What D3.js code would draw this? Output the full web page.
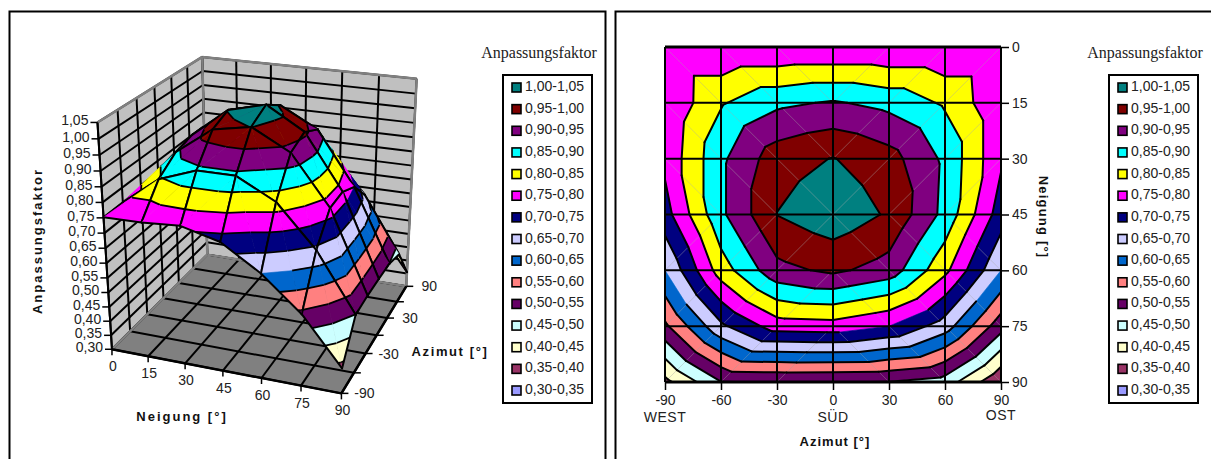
<!DOCTYPE html>
<html lang="de">
<head>
<meta charset="UTF-8">
<title>Anpassungsfaktor</title>
<script src="https://d3js.org/d3.v7.min.js"></script>
<style>
    body { margin: 0; background: #fff; }
    svg { display: block; }
    text { font-family: "Liberation Sans", Arial, sans-serif; fill: #222; }
    .achse { font-size: 14px; }
    .titel { font-size: 13px; font-weight: bold; fill: #111; }
    .legtitel { font-family: "Liberation Serif", serif; font-size: 16px; }
    .legtext { font-size: 14px; }
</style>
</head>
<body>
<div id="chart"></div>
<script>
    // Neigung (rows) and Azimut (columns)
    const neigung = [0, 15, 30, 45, 60, 75, 90];
    const azimut = [-90, -60, -30, 0, 30, 60, 90];

    // Anpassungsfaktor, one row per Neigung
    const faktor00 = [0.752, 0.752, 0.752, 0.752, 0.752, 0.752, 0.752];
    const faktor15 = [0.754, 0.845, 0.889, 0.905, 0.885, 0.843, 0.758];
    const faktor30 = [0.762, 0.890, 0.978, 1.002, 0.970, 0.890, 0.758];
    const faktor45 = [0.730, 0.890, 1.001, 1.033, 0.994, 0.885, 0.725];
    const faktor60 = [0.650, 0.825, 0.935, 0.960, 0.928, 0.813, 0.650];
    const faktor75 = [0.540, 0.690, 0.775, 0.780, 0.750, 0.675, 0.520];
    const faktor90 = [0.385, 0.499, 0.503, 0.502, 0.499, 0.478, 0.355];
    const faktor = [faktor00, faktor15, faktor30, faktor45, faktor60, faktor75, faktor90];

    const bandLabels = ["1,00-1,05", "0,95-1,00", "0,90-0,95", "0,85-0,90", "0,80-0,85", "0,75-0,80", "0,70-0,75",
        "0,65-0,70", "0,60-0,65", "0,55-0,60", "0,50-0,55", "0,45-0,50", "0,40-0,45", "0,35-0,40", "0,30-0,35"];
    const bandLows = [1.00, 0.95, 0.90, 0.85, 0.80, 0.75, 0.70, 0.65, 0.60, 0.55, 0.50, 0.45, 0.40, 0.35, 0.30];
    const bandColors = ["#008080", "#800000", "#800080", "#00FFFF", "#FFFF00", "#FF00FF", "#000080",
        "#CCCCFF", "#0066CC", "#FF8080", "#660066", "#CCFFFF", "#FFFFCC", "#993366", "#9999FF"];

    const zTicks = [0.30, 0.35, 0.40, 0.45, 0.50, 0.55, 0.60, 0.65, 0.70, 0.75, 0.80, 0.85, 0.90, 0.95, 1.00, 1.05];
    const azTicks3d = [-90, -30, 30, 90];
    const azUnter = [[-90, "WEST", 422], [0, "SÜD", 422], [90, "OST", 420]];

    const komma = d3.format(".2f");

    const svg = d3.select("#chart").append("svg").attr("width", 1211).attr("height", 459);

    // panel borders
    svg.append("path").attr("fill", "none").attr("stroke", "#000").attr("stroke-width", 2)
        .attr("d", "M9.5,459V11.5H605.5V459M615.5,459V11.5H1211");

    // split the grid into triangles, the diagonal of each cell points at the middle of the plot
    const triangles = [];
    const diagonals = [];
    for (let r = 0; r < neigung.length - 1; r++) {
        for (let c = 0; c < azimut.length - 1; c++) {
            const p = (i, j) => ({ az: azimut[j], ne: neigung[i], z: faktor[i][j] });
            const a = p(r, c), b = p(r, c + 1), d = p(r + 1, c), e = p(r + 1, c + 1);
            const fallend = (c < 3) === (r < 3);
            if (fallend) {
                triangles.push([a, b, e], [a, d, e]);
                diagonals.push([a, e]);
            } else {
                triangles.push([a, b, d], [b, d, e]);
                diagonals.push([b, d]);
            }
        }
    }

    // part of a triangle with lo <= z <= hi
    function clip(poly, level, keepAbove) {
        const out = [];
        poly.forEach(function (p, i) {
            const q = poly[(i + 1) % poly.length];
            const pIn = keepAbove ? p.z >= level : p.z <= level;
            const qIn = keepAbove ? q.z >= level : q.z <= level;
            if (pIn) out.push(p);
            if (pIn !== qIn) {
                const t = (level - p.z) / (q.z - p.z);
                out.push({ az: p.az + t * (q.az - p.az), ne: p.ne + t * (q.ne - p.ne), z: level });
            }
        });
        return out;
    }

    function contourSegments(tri) {
        const segs = [];
        bandLows.forEach(function (level) {
            const pts = [];
            tri.forEach(function (p, i) {
                const q = tri[(i + 1) % 3];
                if ((p.z - level) * (q.z - level) < 0) {
                    const t = (level - p.z) / (q.z - p.z);
                    pts.push({ az: p.az + t * (q.az - p.az), ne: p.ne + t * (q.ne - p.ne), z: level });
                }
            });
            if (pts.length === 2) segs.push(pts);
        });
        return segs;
    }

    function bandPolys(tri) {
        const polys = [];
        bandLows.forEach(function (lo, i) {
            const part = clip(clip(tri, lo, true), lo + 0.05, false);
            if (part.length > 2) polys.push({ poly: part, color: bandColors[i] });
        });
        return polys;
    }

    function drawLegend(x0) {
        const y = d3.scalePoint().domain(bandLabels).range([86, 389]);
        const g = svg.append("g");
        g.append("text").attr("class", "legtitel").attr("x", x0 + 58).attr("y", 58)
            .attr("text-anchor", "middle").text("Anpassungsfaktor");
        g.append("rect").attr("x", x0 + 22).attr("y", 75).attr("width", 89).attr("height", 328)
            .attr("fill", "#fff").attr("stroke", "#000").attr("stroke-width", 2);
        bandLabels.forEach(function (d, i) {
            g.append("rect").attr("x", x0 + 31).attr("y", y(d) - 3).attr("width", 9).attr("height", 9)
                .attr("fill", bandColors[i]).attr("stroke", "#000").attr("stroke-width", 1.6);
            g.append("text").attr("class", "legtext").attr("x", x0 + 44).attr("y", y(d) + 5).text(d);
        });
    }

    // ---- right chart: contour view ----
    const x2 = d3.scaleLinear().domain([-90, 90]).range([665, 1001]);
    const y2 = d3.scaleLinear().domain([0, 90]).range([47, 382]);
    const path2 = d3.line().x(function (p) { return x2(p.az); }).y(function (p) { return y2(p.ne); });

    const flat = svg.append("g");
    triangles.forEach(function (tri) {
        bandPolys(tri).forEach(function (b) {
            flat.append("path").attr("d", path2(b.poly) + "Z")
                .attr("fill", b.color).attr("stroke", b.color).attr("stroke-width", 0.6);
        });
    });
    diagonals.forEach(function (seg) {
        flat.append("path").attr("d", path2(seg)).attr("stroke", "#999").attr("stroke-opacity", 0.45)
            .attr("stroke-width", 0.8).attr("fill", "none");
    });
    triangles.forEach(function (tri) {
        contourSegments(tri).forEach(function (seg) {
            flat.append("path").attr("d", path2(seg)).attr("stroke", "#000").attr("stroke-width", 2)
                .attr("fill", "none").attr("stroke-linecap", "round");
        });
    });
    flat.selectAll(".vgrid").data(azimut).enter().append("line").attr("class", "vgrid")
        .attr("x1", x2).attr("x2", x2).attr("y1", y2(0)).attr("y2", y2(90))
        .attr("stroke", "#000").attr("stroke-width", 2);
    flat.selectAll(".hgrid").data(neigung).enter().append("line").attr("class", "hgrid")
        .attr("x1", x2(-90)).attr("x2", x2(90)).attr("y1", y2).attr("y2", y2)
        .attr("stroke", "#000").attr("stroke-width", function (d) { return d === 0 || d === 90 ? 3 : 2; });

    const axisY2 = svg.append("g").attr("transform", "translate(" + x2(90) + ",0)")
        .call(d3.axisRight(y2).tickValues(neigung).tickSize(8).tickPadding(3).tickFormat(function (d) { return d; }));
    const axisX2 = svg.append("g").attr("transform", "translate(0," + y2(90) + ")")
        .call(d3.axisBottom(x2).tickValues(azimut).tickSize(8).tickPadding(5).tickFormat(function (d) { return d; }));
    [axisY2, axisX2].forEach(function (a) {
        a.select(".domain").remove();
        a.selectAll("line").attr("stroke", "#000").attr("stroke-width", 1.5);
        a.selectAll("text").attr("class", "achse").attr("font-family", null).attr("font-size", null);
    });
    azUnter.forEach(function (d) {
        svg.append("text").attr("class", "achse").attr("x", x2(d[0])).attr("y", d[2])
            .attr("text-anchor", "middle").style("letter-spacing", "0.5px").text(d[1]);
    });
    svg.append("text").attr("class", "titel").attr("x", 835).attr("y", 446)
        .attr("text-anchor", "middle").style("letter-spacing", "1px").text("Azimut [°]");
    svg.append("text").attr("class", "titel").attr("text-anchor", "middle").style("letter-spacing", "1.2px")
        .attr("transform", "translate(1039,217) rotate(90)").text("Neigung [°]");
    drawLegend(1087);

    // ---- left chart: 3D view ----
    const uScale = d3.scaleLinear().domain([-90, 90]).range([0, 1]);
    const vScale = d3.scaleLinear().domain([0, 90]).range([0, 1]);
    const wScale = d3.scaleLinear().domain([0.30, 1.05]).range([0, 1]);

    // where known points of the box and surface sit on screen: u, v, w, x, y
    const anchors = [
        [0, 0, 0, 112, 350], [0, 1, 0, 342, 393], [1, 1, 0, 406, 287], [1, 0, 0, 207, 254],
        [0, 0, 1, 97, 123], [1, 0, 1, 203, 57], [1, 1, 1, 417, 79],
        [uScale(0), vScale(45), wScale(1.033), 265, 104],
        [uScale(-90), vScale(0), wScale(0.752), 104, 217],
        [uScale(-90), vScale(90), wScale(0.385), 342, 368]
    ];

    // least squares for the 11 projection numbers
    function fitCamera(pts) {
        const n = 11;
        const A = d3.range(n).map(function () { return new Array(n + 1).fill(0); });
        function add(row, val) {
            for (let i = 0; i < n; i++) {
                for (let j = 0; j < n; j++) A[i][j] += row[i] * row[j];
                A[i][n] += row[i] * val;
            }
        }
        pts.forEach(function (p) {
            const [u, v, w, x, y] = p;
            add([u, v, w, 1, 0, 0, 0, 0, -x * u, -x * v, -x * w], x);
            add([0, 0, 0, 0, u, v, w, 1, -y * u, -y * v, -y * w], y);
        });
        for (let i = 0; i < n; i++) {
            let best = i;
            for (let k = i + 1; k < n; k++) if (Math.abs(A[k][i]) > Math.abs(A[best][i])) best = k;
            [A[i], A[best]] = [A[best], A[i]];
            for (let k = 0; k < n; k++) {
                if (k === i) continue;
                const f = A[k][i] / A[i][i];
                for (let j = i; j <= n; j++) A[k][j] -= f * A[i][j];
            }
        }
        return A.map(function (row, i) { return row[n] / row[i]; });
    }
    const cam = fitCamera(anchors);

    function depth(az, ne, z) {
        return cam[8] * uScale(az) + cam[9] * vScale(ne) + cam[10] * wScale(z) + 1;
    }
    function proj(az, ne, z) {
        const u = uScale(az), v = vScale(ne), w = wScale(z), d = depth(az, ne, z);
        return [(cam[0] * u + cam[1] * v + cam[2] * w + cam[3]) / d, (cam[4] * u + cam[5] * v + cam[6] * w + cam[7]) / d];
    }
    const path3 = d3.line().x(function (p) { return proj(p.az, p.ne, p.z)[0]; }).y(function (p) { return proj(p.az, p.ne, p.z)[1]; });
    const pt = function (az, ne, z) { return { az: az, ne: ne, z: z }; };

    const box = svg.append("g");
    const zMin = 0.30, zMax = 1.05;
    function poly3(g, pts, fill) {
        g.append("path").attr("d", path3(pts) + "Z").attr("fill", fill).attr("stroke", "none");
    }
    function line3(g, a, b, color, width) {
        g.append("path").attr("d", path3([a, b])).attr("stroke", color).attr("stroke-width", width).attr("fill", "none");
    }
    // walls and floor
    poly3(box, [pt(-90, 0, zMin), pt(90, 0, zMin), pt(90, 0, zMax), pt(-90, 0, zMax)], "#C0C0C0");
    poly3(box, [pt(90, 0, zMin), pt(90, 90, zMin), pt(90, 90, zMax), pt(90, 0, zMax)], "#C0C0C0");
    poly3(box, [pt(-90, 0, zMin), pt(90, 0, zMin), pt(90, 90, zMin), pt(-90, 90, zMin)], "#808080");
    zTicks.forEach(function (z) {
        line3(box, pt(-90, 0, z), pt(90, 0, z), "#000", 2);
        line3(box, pt(90, 0, z), pt(90, 90, z), "#000", 2);
    });
    azimut.forEach(function (a) {
        line3(box, pt(a, 0, zMin), pt(a, 0, zMax), "#000", 2);
        line3(box, pt(a, 0, zMin), pt(a, 90, zMin), "#000", 2);
    });
    neigung.forEach(function (n) {
        line3(box, pt(90, n, zMin), pt(90, n, zMax), "#000", 2);
        line3(box, pt(-90, n, zMin), pt(90, n, zMin), "#000", 2);
    });
    // grey edges of the walls
    line3(box, pt(-90, 0, zMax), pt(90, 0, zMax), "#808080", 2.5);
    line3(box, pt(90, 0, zMax), pt(90, 90, zMax), "#808080", 2.5);
    line3(box, pt(90, 0, zMin), pt(90, 0, zMax), "#808080", 2.5);
    line3(box, pt(90, 90, zMin), pt(90, 90, zMax), "#808080", 2.5);
    line3(box, pt(-90, 0, zMin), pt(90, 0, zMin), "#808080", 2.5);
    line3(box, pt(90, 0, zMin), pt(90, 90, zMin), "#808080", 2.5);
    // black front edges
    line3(box, pt(-90, 0, zMin), pt(-90, 0, zMax), "#000", 2);
    line3(box, pt(-90, 0, zMin), pt(-90, 90, zMin), "#000", 2.5);
    line3(box, pt(-90, 90, zMin), pt(90, 90, zMin), "#000", 2.5);

    // surface, far triangles first
    const mitte = function (t) { return d3.mean(t, function (p) { return depth(p.az, p.ne, p.z); }); };
    const sorted = triangles.slice().sort(function (a, b) { return d3.descending(mitte(a), mitte(b)); });
    const surf = svg.append("g");
    sorted.forEach(function (tri) {
        bandPolys(tri).forEach(function (b) {
            surf.append("path").attr("d", path3(b.poly) + "Z")
                .attr("fill", b.color).attr("stroke", b.color).attr("stroke-width", 0.6);
        });
        contourSegments(tri).forEach(function (seg) {
            surf.append("path").attr("d", path3(seg)).attr("stroke", "#000").attr("stroke-width", 1.8).attr("fill", "none");
        });
        tri.forEach(function (p, i) {
            const q = tri[(i + 1) % 3];
            if (p.az === q.az || p.ne === q.ne) {
                surf.append("path").attr("d", path3([p, q])).attr("stroke", "#000").attr("stroke-width", 2)
                    .attr("fill", "none").attr("stroke-linecap", "round");
            }
        });
    });

    // axes of the 3D box
    const ax3 = svg.append("g");
    zTicks.forEach(function (z) {
        const p = proj(-90, 0, z);
        ax3.append("line").attr("x1", p[0] - 7).attr("x2", p[0]).attr("y1", p[1]).attr("y2", p[1])
            .attr("stroke", "#000").attr("stroke-width", 1.5);
        ax3.append("text").attr("class", "achse").attr("x", p[0] - 9).attr("y", p[1] + 3)
            .attr("text-anchor", "end").text(komma(z).replace(".", ","));
    });
    neigung.forEach(function (n) {
        const p = proj(-90, n, zMin);
        ax3.append("line").attr("x1", p[0]).attr("x2", p[0]).attr("y1", p[1]).attr("y2", p[1] + 6)
            .attr("stroke", "#000").attr("stroke-width", 1.5);
        ax3.append("text").attr("class", "achse").attr("x", p[0] + 1).attr("y", p[1] + 22)
            .attr("text-anchor", "middle").text(n);
    });
    azimut.forEach(function (a) {
        const p = proj(a, 90, zMin);
        ax3.append("line").attr("x1", p[0]).attr("x2", p[0] + 7).attr("y1", p[1]).attr("y2", p[1])
            .attr("stroke", "#000").attr("stroke-width", 1.5);
        if (azTicks3d.includes(a)) {
            ax3.append("text").attr("class", "achse").attr("x", p[0] + 23).attr("y", p[1] + 5)
                .attr("text-anchor", "middle").text(a);
        }
    });
    svg.append("text").attr("class", "titel").attr("x", 182).attr("y", 421)
        .attr("text-anchor", "middle").style("letter-spacing", "2px").text("Neigung [°]");
    svg.append("text").attr("class", "titel").attr("x", 450).attr("y", 356)
        .attr("text-anchor", "middle").style("letter-spacing", "1.6px").text("Azimut [°]");
    svg.append("text").attr("class", "titel").attr("text-anchor", "middle").style("letter-spacing", "2px")
        .attr("transform", "translate(42,241) rotate(-90)").text("Anpassungsfaktor");
    drawLegend(481);
</script>
</body>
</html>
